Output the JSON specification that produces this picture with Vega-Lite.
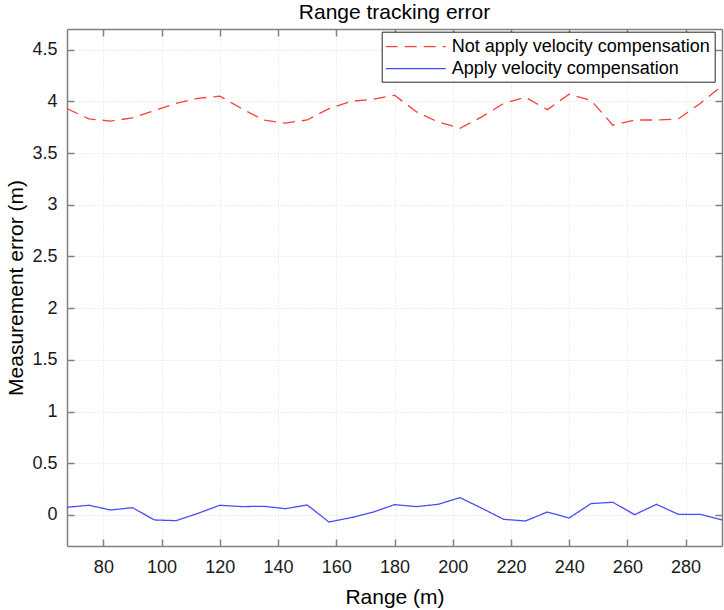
{
  "$schema": "https://vega.github.io/schema/vega-lite/v6.json",
  "autosize": "none",
  "width": 655,
  "height": 517,
  "padding": {"left": 67, "top": 29, "right": 2, "bottom": 64},
  "background": "white",
  "title": {"text": "Range tracking error", "anchor": "middle", "frame": "group", "baseline": "alphabetic", "offset": -12, "fontSize": 21, "fontWeight": "normal", "font": "Liberation Sans", "color": "#000000"},
  "config": {
    "view": {"stroke": null},
    "axis": {"domainColor": "#808080", "domainWidth": 1.5, "tickColor": "#808080", "tickWidth": 1.5, "tickSize": -7, "labelFont": "Liberation Sans", "labelFontSize": 18, "labelColor": "#1a1a1a", "titleFont": "Liberation Sans", "titleFontSize": 21, "titleFontWeight": "normal", "titleColor": "#000000", "gridColor": "#dedede", "gridDash": [1, 2], "gridWidth": 1}
  },
  "data": {"values": [
    {"range": 67.5, "error": 3.93, "series": "Not apply velocity compensation"},
    {"range": 75, "error": 3.83, "series": "Not apply velocity compensation"},
    {"range": 82.5, "error": 3.81, "series": "Not apply velocity compensation"},
    {"range": 90, "error": 3.84, "series": "Not apply velocity compensation"},
    {"range": 97.5, "error": 3.91, "series": "Not apply velocity compensation"},
    {"range": 105, "error": 3.98, "series": "Not apply velocity compensation"},
    {"range": 112.5, "error": 4.03, "series": "Not apply velocity compensation"},
    {"range": 120, "error": 4.05, "series": "Not apply velocity compensation"},
    {"range": 127.5, "error": 3.93, "series": "Not apply velocity compensation"},
    {"range": 135, "error": 3.82, "series": "Not apply velocity compensation"},
    {"range": 142.5, "error": 3.79, "series": "Not apply velocity compensation"},
    {"range": 150, "error": 3.82, "series": "Not apply velocity compensation"},
    {"range": 157.5, "error": 3.93, "series": "Not apply velocity compensation"},
    {"range": 165, "error": 4.0, "series": "Not apply velocity compensation"},
    {"range": 172.5, "error": 4.02, "series": "Not apply velocity compensation"},
    {"range": 180, "error": 4.06, "series": "Not apply velocity compensation"},
    {"range": 187.5, "error": 3.9, "series": "Not apply velocity compensation"},
    {"range": 195, "error": 3.8, "series": "Not apply velocity compensation"},
    {"range": 202.5, "error": 3.74, "series": "Not apply velocity compensation"},
    {"range": 210, "error": 3.85, "series": "Not apply velocity compensation"},
    {"range": 217.5, "error": 3.98, "series": "Not apply velocity compensation"},
    {"range": 225, "error": 4.04, "series": "Not apply velocity compensation"},
    {"range": 232.5, "error": 3.92, "series": "Not apply velocity compensation"},
    {"range": 240, "error": 4.07, "series": "Not apply velocity compensation"},
    {"range": 247.5, "error": 4.01, "series": "Not apply velocity compensation"},
    {"range": 255, "error": 3.77, "series": "Not apply velocity compensation"},
    {"range": 262.5, "error": 3.82, "series": "Not apply velocity compensation"},
    {"range": 270, "error": 3.82, "series": "Not apply velocity compensation"},
    {"range": 277.5, "error": 3.83, "series": "Not apply velocity compensation"},
    {"range": 285, "error": 3.98, "series": "Not apply velocity compensation"},
    {"range": 292.5, "error": 4.15, "series": "Not apply velocity compensation"},
    {"range": 67.5, "error": 0.074, "series": "Apply velocity compensation"},
    {"range": 75, "error": 0.094, "series": "Apply velocity compensation"},
    {"range": 82.5, "error": 0.048, "series": "Apply velocity compensation"},
    {"range": 90, "error": 0.071, "series": "Apply velocity compensation"},
    {"range": 97.5, "error": -0.048, "series": "Apply velocity compensation"},
    {"range": 105, "error": -0.055, "series": "Apply velocity compensation"},
    {"range": 112.5, "error": 0.016, "series": "Apply velocity compensation"},
    {"range": 120, "error": 0.094, "series": "Apply velocity compensation"},
    {"range": 127.5, "error": 0.081, "series": "Apply velocity compensation"},
    {"range": 135, "error": 0.084, "series": "Apply velocity compensation"},
    {"range": 142.5, "error": 0.061, "series": "Apply velocity compensation"},
    {"range": 150, "error": 0.097, "series": "Apply velocity compensation"},
    {"range": 157.5, "error": -0.068, "series": "Apply velocity compensation"},
    {"range": 165, "error": -0.026, "series": "Apply velocity compensation"},
    {"range": 172.5, "error": 0.026, "series": "Apply velocity compensation"},
    {"range": 180, "error": 0.1, "series": "Apply velocity compensation"},
    {"range": 187.5, "error": 0.081, "series": "Apply velocity compensation"},
    {"range": 195, "error": 0.103, "series": "Apply velocity compensation"},
    {"range": 202.5, "error": 0.168, "series": "Apply velocity compensation"},
    {"range": 210, "error": 0.065, "series": "Apply velocity compensation"},
    {"range": 217.5, "error": -0.042, "series": "Apply velocity compensation"},
    {"range": 225, "error": -0.058, "series": "Apply velocity compensation"},
    {"range": 232.5, "error": 0.029, "series": "Apply velocity compensation"},
    {"range": 240, "error": -0.029, "series": "Apply velocity compensation"},
    {"range": 247.5, "error": 0.11, "series": "Apply velocity compensation"},
    {"range": 255, "error": 0.123, "series": "Apply velocity compensation"},
    {"range": 262.5, "error": 0.003, "series": "Apply velocity compensation"},
    {"range": 270, "error": 0.103, "series": "Apply velocity compensation"},
    {"range": 277.5, "error": 0.006, "series": "Apply velocity compensation"},
    {"range": 285, "error": 0.006, "series": "Apply velocity compensation"},
    {"range": 292.5, "error": -0.048, "series": "Apply velocity compensation"}
  ]},
  "layer": [
    {
      "mark": {"type": "line", "strokeWidth": 1.3, "clip": true},
      "encoding": {
        "x": {"field": "range", "type": "quantitative", "scale": {"domain": [67.5, 292.5], "nice": false, "zero": false},
              "axis": {"orient": "bottom", "values": [80, 100, 120, 140, 160, 180, 200, 220, 240, 260, 280], "format": "d", "grid": true, "labelPadding": 19, "title": "Range (m)", "titleX": 327.5, "titleY": 57, "titleBaseline": "alphabetic", "titleAnchor": null}},
        "y": {"field": "error", "type": "quantitative", "scale": {"domain": [-0.3, 4.7], "nice": false, "zero": false},
              "axis": {"orient": "left", "values": [0, 0.5, 1, 1.5, 2, 2.5, 3, 3.5, 4, 4.5], "format": "~g", "grid": true, "labelPadding": 17, "title": "Measurement error (m)", "titleX": -45, "titleY": 258.5, "titleAngle": 270, "titleBaseline": "alphabetic", "titleAlign": "center"}},
        "color": {"field": "series", "type": "nominal",
                  "scale": {"domain": ["Not apply velocity compensation", "Apply velocity compensation"], "range": ["#ff3d3d", "#4b4bff"]},
                  "legend": {"title": null, "orient": "none", "legendX": 314.7, "legendY": 2.7, "direction": "vertical", "fillColor": "white", "strokeColor": "#262626", "padding": 4, "symbolType": "M-3,0H3", "symbolSize": 400, "symbolStrokeWidth": 1.3, "symbolOffset": 19, "labelOffset": 25, "labelFontSize": 18, "labelFont": "Liberation Sans", "labelColor": "#000000", "rowPadding": 2, "labelLimit": 0}},
        "strokeDash": {"field": "series", "type": "nominal",
                  "scale": {"domain": ["Not apply velocity compensation", "Apply velocity compensation"], "range": [[12, 7], [1, 0]]},
                  "legend": {"title": null, "orient": "none", "legendX": 314.7, "legendY": 2.7, "direction": "vertical", "fillColor": "white", "strokeColor": "#262626", "padding": 4, "symbolType": "M-3,0H3", "symbolSize": 400, "symbolStrokeWidth": 1.3, "symbolOffset": 19, "labelOffset": 25, "labelFontSize": 18, "labelFont": "Liberation Sans", "labelColor": "#000000", "rowPadding": 2, "labelLimit": 0}}
      }
    },
    {
      "mark": {"type": "line", "opacity": 0},
      "encoding": {
        "x": {"field": "range", "type": "quantitative", "axis": {"orient": "top", "values": [80, 100, 120, 140, 160, 180, 200, 220, 240, 260, 280], "labels": false, "grid": false, "title": null}},
        "y": {"field": "error", "type": "quantitative", "axis": {"orient": "right", "values": [0, 0.5, 1, 1.5, 2, 2.5, 3, 3.5, 4, 4.5], "labels": false, "grid": false, "title": null}},
        "detail": {"field": "series"}
      }
    }
  ],
  "resolve": {"axis": {"x": "independent", "y": "independent"}}
}
